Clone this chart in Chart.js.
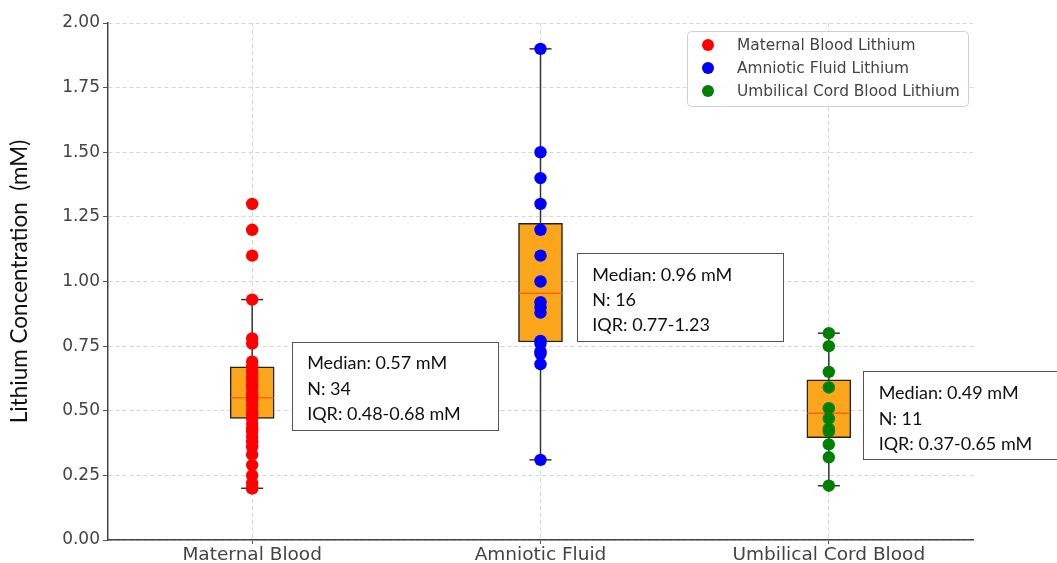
<!DOCTYPE html>
<html>
<head>
<meta charset="utf-8">
<script src="https://cdn.jsdelivr.net/npm/chart.js@4"></script>
<style>
  html, body { margin: 0; padding: 0; background: #ffffff; }
  #wrap { width: 1057px; height: 563px; position: relative; }
</style>
</head>
<body>
<div id="wrap"><canvas id="c" width="1057" height="563"></canvas></div>
<script>
// ---- data ----
const categories = ['Maternal Blood', 'Amniotic Fluid', 'Umbilical Cord Blood'];
const seriesLabels = ['Maternal Blood Lithium', 'Amniotic Fluid Lithium', 'Umbilical Cord Blood Lithium'];
const maternalValues = [1.30, 1.20, 1.10, 0.93, 0.78, 0.76, 0.69, 0.67, 0.65, 0.63, 0.62, 0.60, 0.59, 0.57, 0.56, 0.55, 0.54,
                        0.52, 0.50, 0.49, 0.48, 0.47, 0.45, 0.43, 0.42, 0.40, 0.38, 0.36, 0.33, 0.29, 0.25, 0.22, 0.20, 0.20];
const amnioticValues = [1.90, 1.50, 1.40, 1.30, 1.20, 1.10, 1.00, 0.92, 0.90, 0.88, 0.77, 0.76, 0.73, 0.72, 0.68, 0.31];
const cordValues = [0.80, 0.75, 0.65, 0.59, 0.51, 0.47, 0.43, 0.42, 0.37, 0.32, 0.21];
const boxQ1 = [0.47, 0.766, 0.396];
const boxQ3 = [0.67, 1.225, 0.62];
const boxMedian = [0.55, 0.955, 0.49];
const whiskerLow = [0.20, 0.31, 0.21];
const whiskerHigh = [0.93, 1.90, 0.80];
const annotMedian = ['0.57', '0.96', '0.49'];
const annotN = ['34', '16', '11'];
const annotIQR = ['0.48-0.68 mM', '0.77-1.23', '0.37-0.65 mM'];
const yTicks = [0, 0.25, 0.5, 0.75, 1.0, 1.25, 1.5, 1.75, 2.0];

// ---- styles / layout ----
const pointColors = ['#ff0000', '#0000ff', '#008000'];
const groups = [maternalValues, amnioticValues, cordValues];
const annotAnchorX = [1.137, 2.126, 3.119];
const annotAnchorY = [0.597, 0.940, 0.482];

const whiskerData = [];
categories.forEach((c, i) => {
  whiskerData.push({x: i + 1, y: whiskerLow[i]});
  whiskerData.push({x: i + 1, y: whiskerHigh[i]});
  whiskerData.push({x: i + 1, y: null});
});
const capData = [];
categories.forEach((c, i) => {
  capData.push({x: i + 1, y: whiskerLow[i]});
  capData.push({x: i + 1, y: whiskerHigh[i]});
});

const pointDatasets = groups.map((vals, i) => ({
  type: 'scatter',
  label: seriesLabels[i],
  data: vals.map(v => ({x: i + 1, y: v})),
  backgroundColor: pointColors[i],
  borderColor: pointColors[i],
  borderWidth: 0,
  pointRadius: 6.2,
  order: 0,
  isPoints: true
}));

const datasets = [
  ...pointDatasets,
  {
    type: 'scatter', label: 'caps', data: capData,
    pointStyle: 'line', pointRadius: 11, borderColor: '#333333', borderWidth: 1.5,
    backgroundColor: '#333333', order: 2
  },
  {
    type: 'scatter', label: 'medians',
    data: boxMedian.map((m, i) => ({x: i + 1, y: m})),
    pointStyle: 'line', pointRadius: 21.5, borderColor: '#f4681c', borderWidth: 1.5,
    backgroundColor: '#f4681c', order: 3
  },
  {
    type: 'bar', label: 'boxes',
    data: boxQ1.map((q, i) => ({x: i + 1, y: [q, boxQ3[i]]})),
    backgroundColor: '#fba61b', borderColor: '#222222', borderWidth: 1.5,
    borderSkipped: false, barThickness: 44, order: 4
  },
  {
    type: 'line', label: 'whiskers', data: whiskerData,
    borderColor: '#333333', borderWidth: 1.5, pointRadius: 0, spanGaps: false,
    fill: false, order: 5
  }
];

const annotPlugin = {
  id: 'annot',
  afterDatasetsDraw(chart) {
    const ctx = chart.ctx;
    const xs = chart.scales.x, ys = chart.scales.y;
    ctx.save();
    for (let i = 0; i < categories.length; i++) {
      const left = xs.getPixelForValue(annotAnchorX[i]);
      const cy = ys.getPixelForValue(annotAnchorY[i]);
      const w = 206, h = 88;
      const top = cy - h / 2;
      ctx.fillStyle = '#ffffff';
      ctx.fillRect(left, top, w, h);
      ctx.strokeStyle = '#555555';
      ctx.lineWidth = 1;
      ctx.strokeRect(Math.round(left) + 0.5, Math.round(top) + 0.5, w, h);
      ctx.fillStyle = '#111111';
      ctx.font = '18px Lato';
      ctx.textBaseline = 'middle';
      ctx.textAlign = 'left';
      const lines = ['Median: ' + annotMedian[i] + ' mM', 'N: ' + annotN[i], 'IQR: ' + annotIQR[i]];
      lines.forEach((t, k) => ctx.fillText(t, left + 15.5, cy - 22 + k * 25.3));
    }
    ctx.restore();
  }
};

const legendPlugin = {
  id: 'customLegend',
  afterDraw(chart) {
    const ctx = chart.ctx;
    const ca = chart.chartArea;
    const w = 281, h = 75;
    const right = ca.right - 5;
    const left = right - w;
    const top = ca.top + 8;
    ctx.save();
    ctx.beginPath();
    if (ctx.roundRect) ctx.roundRect(left + 0.5, top + 0.5, w, h, 4); else ctx.rect(left + 0.5, top + 0.5, w, h);
    ctx.fillStyle = 'rgba(255,255,255,0.85)';
    ctx.fill();
    ctx.strokeStyle = '#d0d0d0';
    ctx.lineWidth = 1;
    ctx.stroke();
    const metas = chart.data.datasets.filter(d => d.isPoints);
    metas.forEach((d, k) => {
      const y = top + 14 + k * 23;
      ctx.beginPath();
      ctx.arc(left + 21, y, 6, 0, Math.PI * 2);
      ctx.fillStyle = d.backgroundColor;
      ctx.fill();
      ctx.fillStyle = '#444444';
      ctx.font = '15.4px "DejaVu Sans"';
      ctx.textBaseline = 'middle';
      ctx.textAlign = 'left';
      ctx.fillText(d.label, left + 50, y + 1);
    });
    ctx.restore();
  }
};

new Chart(document.getElementById('c'), {
  type: 'scatter',
  data: { datasets },
  options: {
    responsive: false,
    animation: false,
    events: [],
    layout: { padding: { top: 23, right: 84, left: 0, bottom: 0 } },
    plugins: { legend: { display: false }, tooltip: { enabled: false } },
    scales: {
      x: {
        type: 'linear', min: 0.5, max: 3.5, offset: false,
        afterBuildTicks: (s) => { s.ticks = categories.map((c, i) => ({value: i + 1})); },
        afterFit: (s) => { s.height = 21; },
        ticks: {
          callback: (v) => categories[Math.round(v) - 1],
          font: { family: 'DejaVu Sans', size: 18.5 },
          color: '#444444', padding: 0, maxRotation: 0, autoSkip: false
        },
        grid: { offset: false, color: '#d6d6d6', lineWidth: 1, tickLength: 4, tickColor: '#555555', tickBorderDash: [] },
        border: { color: '#444444', width: 1.5, dash: [4, 3] }
      },
      y: {
        type: 'linear', min: 0, max: 2,
        afterBuildTicks: (s) => { s.ticks = yTicks.map(v => ({value: v})); },
        afterFit: (s) => { s.width = 108; },
        ticks: {
          callback: (v) => v.toFixed(2),
          font: { family: 'DejaVu Sans', size: 17 },
          color: '#444444', padding: 3
        },
        grid: { color: '#d6d6d6', lineWidth: 1, tickLength: 5, tickColor: '#555555', tickBorderDash: [] },
        border: { color: '#444444', width: 1.5, dash: [4, 3] },
        title: {
          display: true, text: 'Lithium Concentration  (mM)',
          font: { family: 'Lato', size: 22.5 }, color: '#111111',
          padding: { top: 6, bottom: 0 }
        }
      }
    }
  },
  plugins: [annotPlugin, legendPlugin]
});
</script>
</body>
</html>
